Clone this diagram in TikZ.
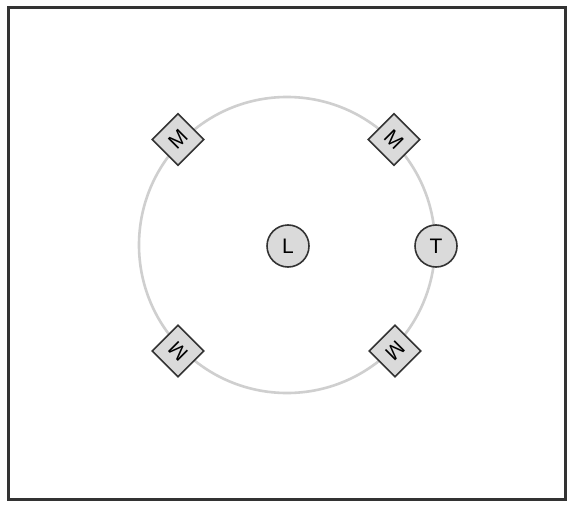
\documentclass[tikz,border=0pt]{standalone}
\usepackage{fontspec}
\setmainfont{Liberation Sans}
\usetikzlibrary{shapes.geometric}
\definecolor{frameC}{HTML}{333333}
\definecolor{ringC}{HTML}{CFCFCF}
\definecolor{fillC}{HTML}{DADADA}
\tikzset{
  sensor/.style={circle, draw=frameC, fill=fillC, line width=1.6pt, minimum size=42pt, inner sep=0pt, font=\fontsize{21}{21}\selectfont},
  mbox/.style={diamond, draw=frameC, fill=fillC, line width=1.6pt, minimum size=52pt, inner sep=0pt},
  mlabel/.style={font=\fontsize{21}{21}\selectfont, inner sep=0pt},
}
\begin{document}
\begin{tikzpicture}[x=1pt,y=-1pt]
\useasboundingbox (0,0) rectangle (569,505);
\fill[white] (0,0) rectangle (569,505);
\draw[frameC, line width=2.6pt] (8.5,7.5) rectangle (565.5,499.5);
\coordinate (ctr) at (287,245);
\draw[ringC, line width=2.6pt] (ctr) circle (148);
\node[sensor] (L) at (288,246) {L};
\node[sensor] (T) at (436,246) {T};
\node[mbox] (m1) at (178,139.5) {};
\node[mlabel, rotate=45] (t1) at (m1) {M};
\node[mbox] (m2) at (394,139.5) {};
\node[mlabel, rotate=-45] (t2) at (m2) {M};
\node[mbox] (m3) at (178,351) {};
\node[mlabel, rotate=135] (t3) at (m3) {M};
\node[mbox] (m4) at (395,351) {};
\node[mlabel, rotate=-135] (t4) at (m4) {M};
\end{tikzpicture}
\end{document}
